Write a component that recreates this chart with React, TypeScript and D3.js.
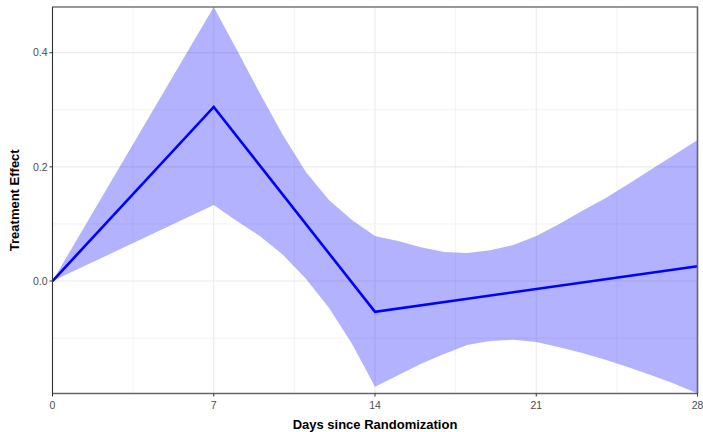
import React from "react";
import * as d3 from "d3";

const lineDays = [0, 7, 14, 28];
const lineValues = [0, 0.305, -0.054, 0.026];

const ribbonDays = [0, 7, 8, 9, 10, 11, 12, 13, 14, 15, 16, 17, 18, 19, 20, 21, 22, 23, 24, 25, 26, 27, 28];
const ribbonUpper = [0, 0.48, 0.405, 0.329, 0.256, 0.191, 0.142, 0.107, 0.079, 0.07, 0.059, 0.051, 0.049, 0.054, 0.063, 0.079, 0.1, 0.123, 0.145, 0.17, 0.196, 0.221, 0.247];
const ribbonLower = [0, 0.133, 0.105, 0.079, 0.046, 0.004, -0.047, -0.11, -0.185, -0.165, -0.145, -0.128, -0.112, -0.105, -0.103, -0.107, -0.116, -0.126, -0.138, -0.151, -0.165, -0.18, -0.197];

const xBreaks = [0, 7, 14, 21, 28];
const xMinor = [3.5, 10.5, 17.5, 24.5];
const yBreaks = [0, 0.2, 0.4];
const yMinor = [-0.1, 0.1, 0.3];

const xTitle = "Days since Randomization";
const yTitle = "Treatment Effect";

export default function App() {
  const W = 703, H = 432;
  const left = 52.5, right = 697.5, top = 7, bottom = 393.5;
  const yMin = d3.min(ribbonLower) as number;
  const yMax = d3.max(ribbonUpper) as number;
  const x = d3.scaleLinear().domain([0, 28]).range([left, right]);
  const y = d3.scaleLinear().domain([yMin, yMax]).range([bottom, top]);

  const ribbonData = ribbonDays.map((d, i) => ({ d, lo: ribbonLower[i], hi: ribbonUpper[i] }));
  const area = d3.area<{ d: number; lo: number; hi: number }>()
    .x((p) => x(p.d)).y0((p) => y(p.lo)).y1((p) => y(p.hi));
  const lineData = lineDays.map((d, i) => ({ d, v: lineValues[i] }));
  const line = d3.line<{ d: number; v: number }>().x((p) => x(p.d)).y((p) => y(p.v));

  const font = "Liberation Sans, Arial, sans-serif";

  return (
    <svg width={W} height={H} style={{ position: "absolute", left: 0, top: 0 }} fontFamily={font}>
      <rect x={0} y={0} width={W} height={H} fill="white" />
      {xMinor.map((v) => (
        <line key={"xm" + v} x1={x(v)} x2={x(v)} y1={top} y2={bottom} stroke="#EBEBEB" strokeWidth={0.6} />
      ))}
      {yMinor.map((v) => (
        <line key={"ym" + v} x1={left} x2={right} y1={y(v)} y2={y(v)} stroke="#EBEBEB" strokeWidth={0.6} />
      ))}
      {xBreaks.map((v) => (
        <line key={"xg" + v} x1={x(v)} x2={x(v)} y1={top} y2={bottom} stroke="#EBEBEB" strokeWidth={1.1} />
      ))}
      {yBreaks.map((v) => (
        <line key={"yg" + v} x1={left} x2={right} y1={y(v)} y2={y(v)} stroke="#EBEBEB" strokeWidth={1.1} />
      ))}
      <path d={area(ribbonData) || ""} fill="#0000FF" fillOpacity={0.3} />
      <path d={line(lineData) || ""} fill="none" stroke="#0000FF" strokeWidth={2.6} />
      <rect x={left} y={top} width={right - left} height={bottom - top} fill="none" stroke="#333333" strokeWidth={1} />
      <line x1={left} x2={right} y1={bottom} y2={bottom} stroke="#666666" strokeWidth={1.6} />
      <line x1={right} x2={right} y1={top} y2={bottom} stroke="#666666" strokeWidth={1.6} />
      <line x1={left} x2={left} y1={top} y2={bottom} stroke="#333333" strokeWidth={1.1} />
      {xBreaks.map((v) => (
        <g key={"xt" + v}>
          <line x1={x(v)} x2={x(v)} y1={bottom} y2={bottom + 3} stroke="#333333" strokeWidth={1} />
          <text x={x(v)} y={bottom + 15} textAnchor="middle" fontSize={10.5} fill="#4D4D4D">{v}</text>
        </g>
      ))}
      {yBreaks.map((v) => (
        <g key={"yt" + v}>
          <line x1={left - 3} x2={left} y1={y(v)} y2={y(v)} stroke="#333333" strokeWidth={1} />
          <text x={left - 5} y={y(v) + 3.7} textAnchor="end" fontSize={10.5} fill="#4D4D4D">{v.toFixed(1)}</text>
        </g>
      ))}
      <text x={(left + right) / 2} y={429} textAnchor="middle" fontSize={13} fontWeight="bold" fill="black">{xTitle}</text>
      <text transform={`translate(19,${(top + bottom) / 2}) rotate(-90)`} textAnchor="middle" fontSize={13} fontWeight="bold" fill="black">{yTitle}</text>
    </svg>
  );
}
